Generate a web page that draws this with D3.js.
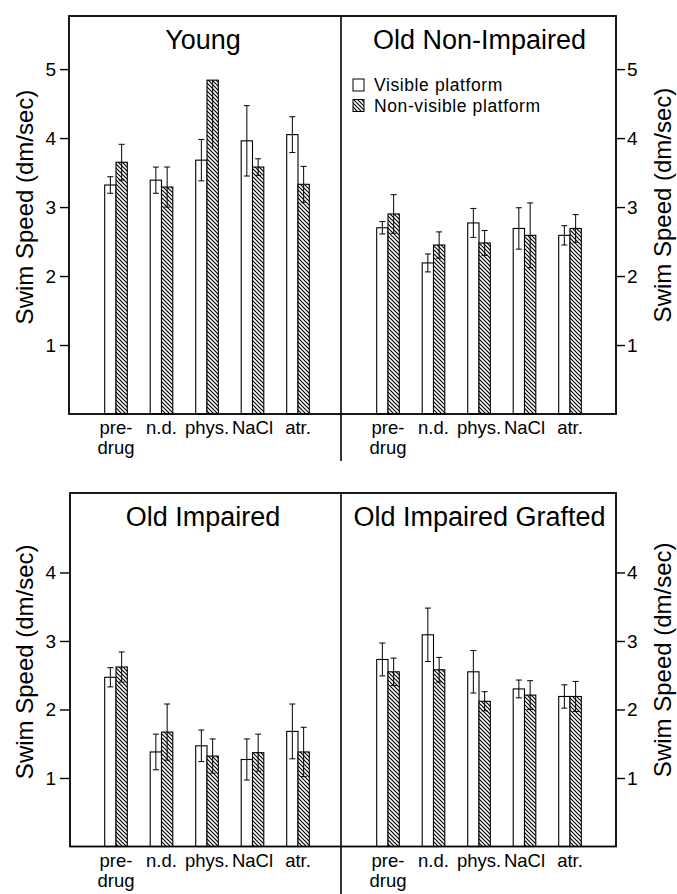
<!DOCTYPE html>
<html>
<head>
<meta charset="utf-8">
<script src="https://cdn.jsdelivr.net/npm/d3@7"></script>
<style>
  html, body { margin: 0; padding: 0; background: #fff; }
  svg { display: block; }
  text { font-family: "Liberation Sans", Arial, Helvetica, sans-serif; fill: #000; }
</style>
</head>
<body>
<svg id="chart" width="677" height="894"></svg>
<script>
// ---------------- DATA ----------------
const categories = ["pre-drug", "n.d.", "phys.", "NaCl", "atr."];
const categoryLabels = [["pre-", "drug"], ["n.d."], ["phys."], ["NaCl"], ["atr."]];
const seriesNames = ["Visible platform", "Non-visible platform"];
const panelTitles = ["Young", "Old Non-Impaired", "Old Impaired", "Old Impaired Grafted"];

const youngVisible      = [3.32, 3.39, 3.68, 3.96, 4.05];
const youngVisibleErr   = [0.12, 0.19, 0.30, 0.51, 0.26];
const youngHidden       = [3.65, 3.29, 4.84, 3.58, 3.33];
const youngHiddenErr    = [0.26, 0.29, 0.99, 0.12, 0.26];

const oldNIVisible      = [2.70, 2.19, 2.77, 2.69, 2.59];
const oldNIVisibleErr   = [0.09, 0.13, 0.21, 0.30, 0.14];
const oldNIHidden       = [2.90, 2.45, 2.48, 2.59, 2.69];
const oldNIHiddenErr    = [0.28, 0.19, 0.18, 0.47, 0.20];

const oldIVisible       = [2.47, 1.38, 1.47, 1.27, 1.68];
const oldIVisibleErr    = [0.14, 0.26, 0.23, 0.30, 0.40];
const oldIHidden        = [2.62, 1.67, 1.32, 1.37, 1.38];
const oldIHiddenErr     = [0.22, 0.41, 0.25, 0.27, 0.36];

const graftVisible      = [2.73, 3.09, 2.55, 2.30, 2.19];
const graftVisibleErr   = [0.24, 0.39, 0.31, 0.13, 0.17];
const graftHidden       = [2.55, 2.58, 2.12, 2.21, 2.19];
const graftHiddenErr    = [0.20, 0.18, 0.14, 0.21, 0.22];

const topTicks = [1, 2, 3, 4, 5];
const bottomTicks = [1, 2, 3, 4];
const topMax = 5.77;
const bottomMax = 5.16;
const axisTitle = "Swim Speed (dm/sec)";

// ---------------- LAYOUT ----------------
const svg = d3.select("#chart");
const FONT = "'Liberation Sans', Arial, Helvetica, sans-serif";

const colX = [[69, 341], [341, 616]];
const rowY = [[16, 414], [493, 846.5]];

const defs = svg.append("defs");
const pat = defs.append("pattern")
  .attr("id", "hatch").attr("patternUnits", "userSpaceOnUse")
  .attr("width", 4).attr("height", 4);
pat.append("rect").attr("width", 4).attr("height", 4).attr("fill", "#fff");
pat.append("path")
  .attr("d", "M0,0 L4,4 M-1,3 L1,5 M3,-1 L5,1")
  .attr("stroke", "#000").attr("stroke-width", 1.15);

const panels = [
  { title: panelTitles[0], col: 0, row: 0, v: youngVisible, ve: youngVisibleErr, h: youngHidden, he: youngHiddenErr },
  { title: panelTitles[1], col: 1, row: 0, v: oldNIVisible, ve: oldNIVisibleErr, h: oldNIHidden, he: oldNIHiddenErr },
  { title: panelTitles[2], col: 0, row: 1, v: oldIVisible, ve: oldIVisibleErr, h: oldIHidden, he: oldIHiddenErr },
  { title: panelTitles[3], col: 1, row: 1, v: graftVisible, ve: graftVisibleErr, h: graftHidden, he: graftHiddenErr }
];

const barW = 11.3;
const capW = 6;

panels.forEach(p => {
  const [x0, x1] = colX[p.col];
  const [yTop, yBase] = rowY[p.row];
  const yMax = p.row === 0 ? topMax : bottomMax;
  const y = d3.scaleLinear().domain([0, yMax]).range([yBase, yTop]);
  const x = d3.scalePoint().domain(categories).range([x0 + 47, x0 + 47 + 4 * 45.5]);
  const g = svg.append("g");

  const series = [
    { vals: p.v, errs: p.ve, fill: "#fff", off: -barW },
    { vals: p.h, errs: p.he, fill: "url(#hatch)", off: 0 }
  ];

  series.forEach(s => {
    g.selectAll(null).data(categories).enter().append("rect")
      .attr("x", c => x(c) + s.off)
      .attr("y", (c, i) => y(s.vals[i]))
      .attr("width", barW)
      .attr("height", (c, i) => y(0) - y(s.vals[i]))
      .attr("fill", s.fill)
      .attr("stroke", "#000").attr("stroke-width", 1.1);
  });

  series.forEach(s => {
    categories.forEach((c, i) => {
      const cx = x(c) + s.off + barW / 2;
      const v = s.vals[i], e = s.errs[i];
      const hi = v + e, lo = v - e;
      const showTop = hi <= yMax;
      const eg = g.append("g").attr("stroke", "#000").attr("stroke-width", 1);
      eg.append("line").attr("x1", cx).attr("x2", cx)
        .attr("y1", y(showTop ? hi : v)).attr("y2", y(lo));
      if (showTop) {
        eg.append("line").attr("x1", cx - capW / 2).attr("x2", cx + capW / 2)
          .attr("y1", y(hi)).attr("y2", y(hi));
        eg.append("line").attr("x1", cx - capW / 2).attr("x2", cx + capW / 2)
          .attr("y1", y(lo)).attr("y2", y(lo));
      }
    });
  });

  // category labels
  categories.forEach((c, i) => {
    const lines = categoryLabels[i];
    const t = g.append("text").attr("x", x(c)).attr("y", yBase + 20)
      .attr("text-anchor", "middle").style("font-size", "18.5px");
    lines.forEach((ln, k) => {
      t.append("tspan").attr("x", x(c)).attr("dy", k === 0 ? 0 : 20).text(ln);
    });
  });

  // axis on outer side
  const ticks = p.row === 0 ? topTicks : bottomTicks;
  if (p.col === 0) {
    const ax = g.append("g").attr("transform", `translate(${x0},0)`)
      .call(d3.axisLeft(y).tickValues(ticks).tickSize(9).tickPadding(4).tickFormat(d3.format("d")));
    ax.select(".domain").remove();
    ax.selectAll(".tick line").attr("stroke", "#000").attr("stroke-width", 1.4);
    ax.selectAll(".tick text").style("font-size", "19px").style("font-family", FONT).attr("fill", "#000");
    g.append("text")
      .attr("transform", `translate(33,${(yTop + yBase) / 2 - 8}) rotate(-90)`)
      .attr("text-anchor", "middle").style("font-size", "24px").text(axisTitle);
  } else {
    const ax = g.append("g").attr("transform", `translate(${x1},0)`)
      .call(d3.axisRight(y).tickValues(ticks).tickSize(9).tickPadding(2).tickFormat(d3.format("d")));
    ax.select(".domain").remove();
    ax.selectAll(".tick line").attr("stroke", "#000").attr("stroke-width", 1.4);
    ax.selectAll(".tick text").style("font-size", "19px").style("font-family", FONT).attr("fill", "#000");
    g.append("text")
      .attr("transform", `translate(671,${(yTop + yBase) / 2 - 10}) rotate(-90)`)
      .attr("text-anchor", "middle").style("font-size", "24px").text(axisTitle);
  }

  // title
  if (p.col === 0) {
    g.append("text").attr("x", (x0 + x1) / 2 - 2).attr("y", yTop + 33)
      .attr("text-anchor", "middle").style("font-size", "27px").text(p.title);
  } else {
    g.append("text").attr("x", (x0 + x1) / 2 + 1).attr("y", yTop + 33)
      .attr("text-anchor", "middle").style("font-size", "27px").text(p.title);
  }
});

// frames
rowY.forEach((r, ri) => {
  const [yTop, yBase] = r;
  const left = ri === 0 ? 69 : 70;
  svg.append("rect").attr("x", left).attr("y", yTop)
    .attr("width", 616 - left).attr("height", yBase - yTop)
    .attr("fill", "none").attr("stroke", "#000").attr("stroke-width", 1.8);
  svg.append("line").attr("x1", 341).attr("x2", 341)
    .attr("y1", yTop).attr("y2", ri === 0 ? 461 : 894)
    .attr("stroke", "#000").attr("stroke-width", 1.6);
});

// legend (inside Old Non-Impaired panel)
const lg = svg.append("g").attr("transform", "translate(353,79)");
seriesNames.forEach((n, i) => {
  lg.append("rect").attr("x", 0).attr("y", i * 20.5).attr("width", 11).attr("height", 12)
    .attr("fill", i === 0 ? "#fff" : "url(#hatch)").attr("stroke", "#000").attr("stroke-width", 1);
  lg.append("text").attr("x", 21).attr("y", i * 20.5 + 12)
    .style("font-size", "17.5px").style("letter-spacing", "0.6px").text(n);
});
</script>
</body>
</html>
